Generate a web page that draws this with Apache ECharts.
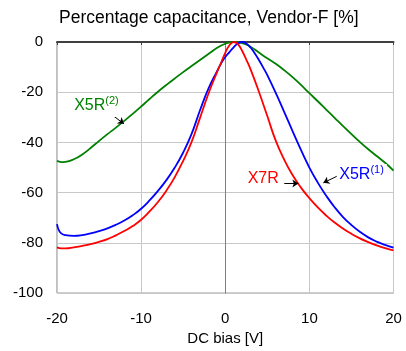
<!DOCTYPE html>
<html>
<head>
<meta charset="utf-8">
<script src="https://cdn.jsdelivr.net/npm/echarts@6/dist/echarts.min.js"></script>
<style>
html,body{margin:0;padding:0;background:#fff;}
#chart{width:406px;height:351px;}
</style>
</head>
<body>
<div id="chart"></div>
<script>
// ---- data (DC bias [V] vs percentage capacitance [%]) ----
var xTicks = [-20, -10, 0, 10, 20];
var yTicks = [-100, -80, -60, -40, -20, 0];

var x5r2X = [-20,-19.5,-19,-18,-17,-16,-15,-14,-13,-12,-11,-10,-9,-8,-7,-6,-5,-4,-3,-2,-1,0,1,2,3,4,5,6,7,8,9,10,11,12,13,14,15,16,17,18,19,20];
var x5r2Y = [-47.3,-47.8,-47.7,-46.7,-44.8,-42.2,-39.4,-36.7,-34.1,-31.4,-28.6,-25.7,-22.7,-19.8,-17.1,-14.5,-12.0,-9.6,-7.2,-4.8,-2.4,-0.7,0,-0.4,-1.9,-4.2,-6.5,-8.7,-11.2,-14.0,-17.1,-20.4,-23.6,-26.9,-30.2,-33.5,-36.7,-39.8,-42.7,-45.4,-48.1,-51.2];

var x5r1X = [-20,-19.8,-19.5,-19,-18,-17,-16,-15,-14,-13,-12,-11,-10,-9,-8,-7,-6,-5,-4,-3,-2,-1,-0.5,0,0.5,1,1.5,2,2.5,3,3.5,4,4.5,5,6,7,8,9,10,11,12,13,14,15,16,17,18,19,20];
var x5r1Y = [-72.5,-74.8,-76.2,-76.9,-77.2,-76.9,-76.2,-75.3,-74.2,-72.8,-71.1,-69.0,-66.4,-63.1,-59.3,-55.0,-50.0,-44.0,-36.6,-27.2,-18.6,-11.8,-8.6,-6.0,-4.0,-2.1,-0.6,0,-0.6,-2.2,-4.5,-7.2,-10.1,-13.2,-20.3,-27.8,-35.5,-43.0,-50.0,-56.0,-61.2,-65.8,-69.7,-72.9,-75.6,-77.8,-79.5,-80.8,-81.9];

var x7rX = [-20,-19.5,-19,-18,-17,-16,-15,-14,-13,-12,-11,-10,-9,-8,-7,-6,-5,-4,-3,-2,-1,-0.5,0,0.5,1,1.5,2,2.5,3,4,5,6,7,8,9,10,11,12,13,14,15,16,17,18,19,20];
var x7rY = [-81.8,-82.2,-82.2,-81.8,-81.2,-80.5,-79.6,-78.5,-77.0,-75.3,-73.3,-70.8,-67.5,-63.7,-59.2,-53.8,-47.3,-39.8,-30.2,-20.6,-12.2,-8.3,-4.3,-1.3,0,-0.8,-3.5,-7.0,-10.8,-19.8,-29.5,-39.3,-46.8,-53.0,-58.0,-62.2,-65.9,-69.1,-71.9,-74.3,-76.4,-78.2,-79.7,-81.0,-82.1,-83.0];

// annotation anchors in data coordinates
var lbl5r2 = [-15.25, -25.5], arr5r2 = [[-13.78, -28.2], [-12.04, -32.6]];
var lbl7r  = [4.57, -54.5],   arr7r  = [[7.02, -56.4], [8.69, -56.4]];
var lbl5r1 = [16.26, -53.0],  arr5r1 = [[13.25, -53.5], [11.66, -56.1]];

function pairs(xs, ys){ return xs.map(function(x,i){ return [x, ys[i]]; }); }

var FONT = '"Liberation Sans", Arial, sans-serif';
var GREEN = '#008000', BLUE = '#0000ff', RED = '#ff0000';

function mk(color, text, sup, lbl, arr){
  return {
    markPoint: {
      silent: true, animation: false, symbol: 'circle', symbolSize: 0,
      data: [{coord: lbl, value: 0}],
      label: {
        show: true, position: 'inside', backgroundColor: sup ? '#fff' : 'transparent',
        padding: [0, 3, 0, 2],
        formatter: sup ? '{a|' + text + '}{b|' + sup + '}' : '{a|' + text + '}',
        rich: {
          a: {fontSize: 16, fontFamily: FONT, color: color, lineHeight: 22, verticalAlign: 'middle'},
          b: {fontSize: 11, fontFamily: FONT, color: color, lineHeight: 12, verticalAlign: 'top'}
        }
      }
    },
    markLine: {
      silent: true, animation: false, symbolSize: 6,
      lineStyle: {color: '#000', width: 1, type: 'solid'},
      label: {show: false},
      data: [[{coord: arr[0], symbol: 'none'}, {coord: arr[1], symbol: 'arrow'}]]
    }
  };
}

var chart = echarts.init(document.getElementById('chart'), null, {renderer: 'canvas'});
var option = {
  animation: false,
  backgroundColor: '#fff',
  grid: {left: 57, right: 12.5, top: 42, bottom: 52.5, show: true, borderColor: '#808080', borderWidth: 1},
  graphic: [{
    type: 'text', left: 59, top: 9,
    style: {text: 'Percentage capacitance, Vendor-F [%]', font: '17.5px ' + FONT, fill: '#000'}
  }],
  xAxis: [{
    type: 'value', min: xTicks[0], max: xTicks[xTicks.length-1], interval: 10, position: 'bottom',
    axisLine: {show: true, lineStyle: {color: '#808080', width: 1}},
    axisTick: {show: false},
    axisLabel: {fontSize: 15, fontFamily: FONT, color: '#000', margin: 18},
    splitLine: {show: true, lineStyle: {color: '#c8c8c8', width: 1}},
    name: 'DC bias [V]', nameLocation: 'middle', nameGap: 36,
    nameTextStyle: {fontSize: 15, fontFamily: FONT, color: '#000'}
  }, {
    type: 'value', min: xTicks[0], max: xTicks[xTicks.length-1], interval: 10, position: 'top',
    axisLine: {show: true, lineStyle: {color: '#404040', width: 2}},
    axisTick: {show: true, inside: true, length: 3, lineStyle: {color: '#404040'}},
    axisLabel: {show: false}, splitLine: {show: false}
  }],
  yAxis: {
    type: 'value', min: yTicks[0], max: yTicks[yTicks.length-1], interval: 20,
    axisLine: {show: true, lineStyle: {color: '#808080', width: 1}},
    axisTick: {show: false},
    axisLabel: {fontSize: 15, fontFamily: FONT, color: '#000', margin: 14},
    splitLine: {show: true, lineStyle: {color: '#c8c8c8', width: 1}}
  },
  series: [
    Object.assign({type: 'line', name: 'X5R(2)', data: pairs(x5r2X, x5r2Y), showSymbol: false, smooth: 0.5,
      lineStyle: {color: GREEN, width: 1.8}, z: 2}, mk(GREEN, 'X5R', '(2)', lbl5r2, arr5r2)),
    Object.assign({type: 'line', name: 'X5R(1)', data: pairs(x5r1X, x5r1Y), showSymbol: false, smooth: 0.5,
      lineStyle: {color: BLUE, width: 1.8}, z: 3}, mk(BLUE, 'X5R', '(1)', lbl5r1, arr5r1)),
    Object.assign({type: 'line', name: 'X7R', data: pairs(x7rX, x7rY), showSymbol: false, smooth: 0.5,
      lineStyle: {color: RED, width: 1.8}, z: 4}, mk(RED, 'X7R', null, lbl7r, arr7r))
  ]
};
chart.setOption(option);
</script>
</body>
</html>
